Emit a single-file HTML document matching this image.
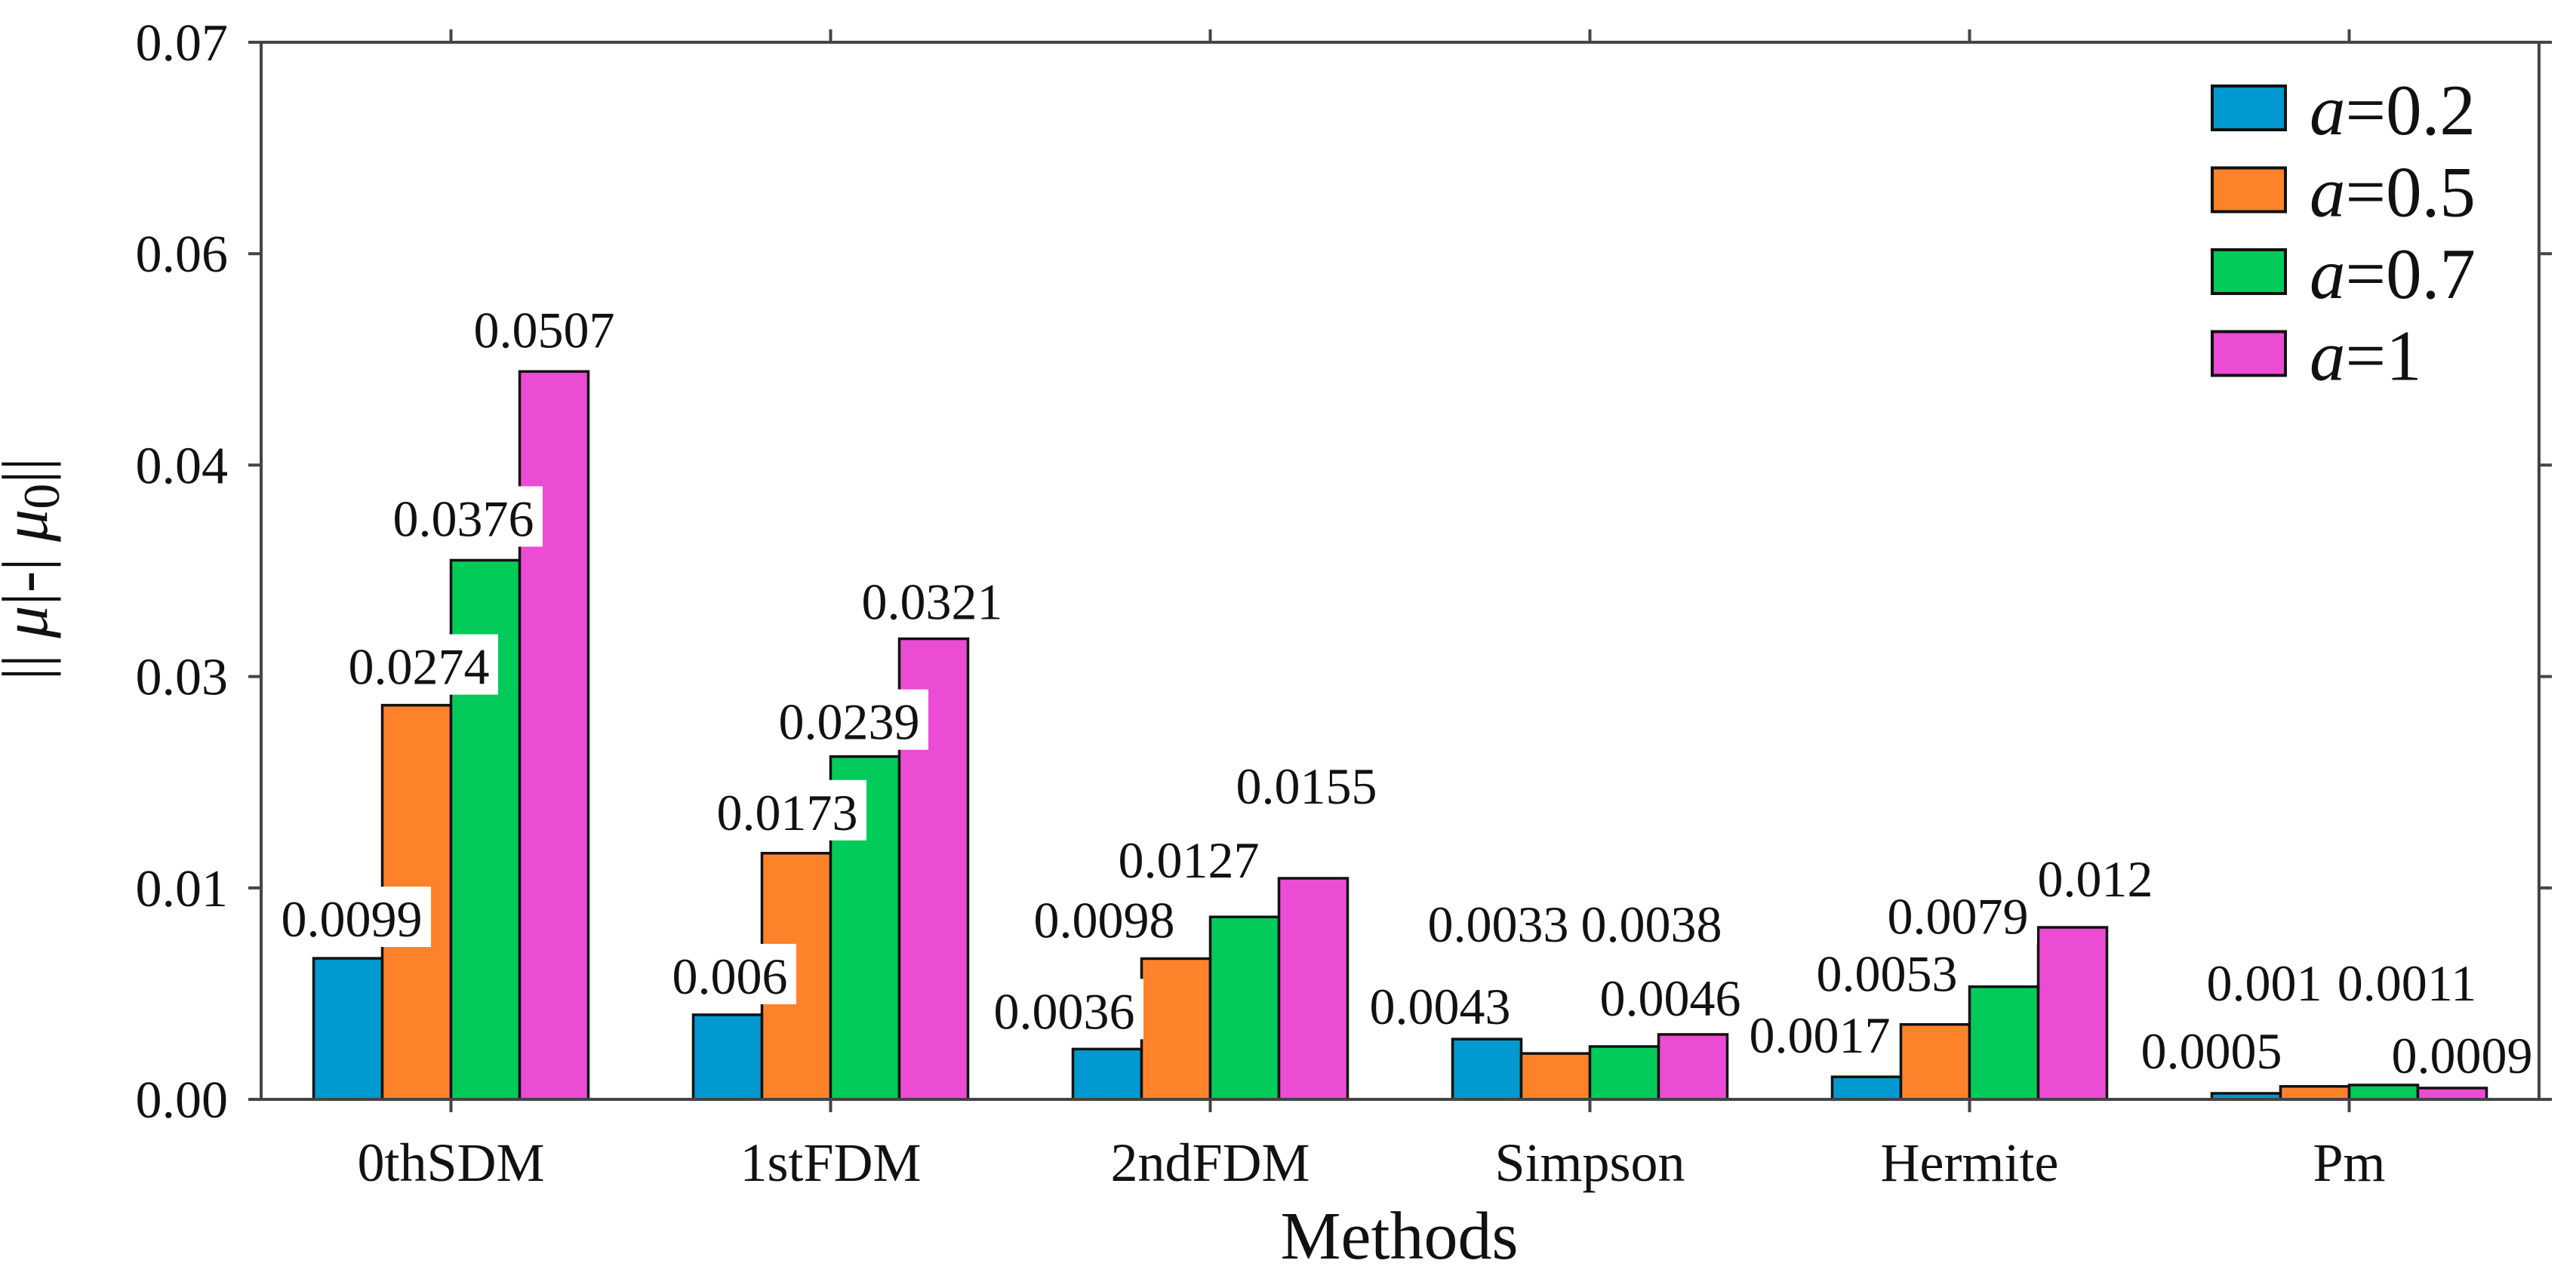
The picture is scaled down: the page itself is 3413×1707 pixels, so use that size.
<!DOCTYPE html>
<html><head><meta charset="utf-8"><style>
html,body{margin:0;padding:0;background:#fff;}
svg{display:block;font-family:"Liberation Serif","DejaVu Serif",serif;}
</style></head><body>
<svg id="chart" width="3413" height="1707" viewBox="0 0 3413 1707" xmlns="http://www.w3.org/2000/svg">
<rect width="3413" height="1707" fill="#fff"/>
<g id="bars"></g>
<g id="labels"></g>
<g id="axes"></g>
<text x="1854" y="1668" font-size="90" text-anchor="middle" fill="#111">Methods</text>
<text transform="translate(62,754) rotate(-90)" font-size="86" text-anchor="middle" fill="#111" xml:space="preserve">|| <tspan font-style="italic">μ</tspan>|-| <tspan font-style="italic">μ</tspan><tspan font-size="68" dy="16">0</tspan><tspan dy="-16">||</tspan></text>
<g id="legend"></g>
</svg>
<script>
const categories = ["0thSDM","1stFDM","2ndFDM","Simpson","Hermite","Pm"];
const seriesNames = ["0.2","0.5","0.7","1"];
const seriesA02 = [0.00934,0.0056,0.00333,0.00399,0.00149,0.0004];
const seriesA05 = [0.0261,0.0163,0.00932,0.00304,0.00496,0.00086];
const seriesA07 = [0.0357,0.0227,0.01208,0.0035,0.00746,0.00095];
const seriesA1 = [0.0482,0.0305,0.01464,0.0043,0.01139,0.00075];
const labelsA02 = ["0.0099","0.006","0.0036","0.0043","0.0017","0.0005"];
const labelsA05 = ["0.0274","0.0173","0.0098","0.0033","0.0053","0.001"];
const labelsA07 = ["0.0376","0.0239","0.0127","0.0038","0.0079","0.0011"];
const labelsA1 = ["0.0507","0.0321","0.0155","0.0046","0.012","0.0009"];
const yTickLabels = ["0.00","0.01","0.03","0.04","0.06","0.07"];
const yMax = 0.07;

const NS="http://www.w3.org/2000/svg";
const colors=["#0199cf","#fd822a","#02cb5a","#eb4cd3"];
const series=[seriesA02,seriesA05,seriesA07,seriesA1];
const labels=[labelsA02,labelsA05,labelsA07,labelsA1];
// label offsets (layout only): dx from bar center, dy of baseline from bar top
const ldx=[[5,3,-57,-62,-62,-46],[3,-12,-95,-76,-64,-67],[-29,-21,-74,36,-61,31],[-13,-2,-9,-30,30,13]];
const ldy=[[-29,-28,-27,-20,-32,-33],[-28,-31,-28,-148,-44,-114],[-32,-23,-52,-139,-70,-112],[-32,-26,-99,-25,-41,-20]];
const L=346,R=3364,T=56,B=1457;
const groupW=(R-L)/categories.length, barW=91;
function xc(i){return L+groupW*(i+0.5);}
function yv(v){return B-(v/yMax)*(B-T);}
function mk(tag,attrs,parent){const e=document.createElementNS(NS,tag);for(const k in attrs)e.setAttribute(k,attrs[k]);parent.appendChild(e);return e;}
const gb=document.getElementById('bars'),gl=document.getElementById('labels'),ga=document.getElementById('axes'),glg=document.getElementById('legend');
for(let s=0;s<series.length;s++){
  for(let i=0;i<categories.length;i++){
    const cx=xc(i)+(s-1.5)*barW, y=yv(series[s][i]);
    const r=mk('rect',{x:cx-barW/2,y:y,width:barW,height:B-y,fill:colors[s],stroke:'#111','stroke-width':3.5},gb);
    
    
  }
}
for(let s=0;s<series.length;s++){
  for(let i=0;i<categories.length;i++){
    const cx=xc(i)+(s-1.5)*barW+ldx[s][i], by=yv(series[s][i])+ldy[s][i];
    const w=labels[s][i].length*34+6;
    const bg=mk('rect',{x:cx-w/2,y:by-66,width:w,height:80,fill:'#fff'},gl);
    
    
    const t=mk('text',{x:cx,y:by,'font-size':68,'text-anchor':'middle',fill:'#111'},gl);
    t.textContent=labels[s][i];
    
    
  }
}
const st={stroke:'#444','stroke-width':4,fill:'none'};
const box=mk('rect',Object.assign({x:L,y:T,width:R-L,height:B-T},st),ga);


for(let k=0;k<yTickLabels.length;k++){
  const y=B-(B-T)*k/(yTickLabels.length-1);
  mk('line',Object.assign({x1:L-17,x2:L,y1:y,y2:y},st),ga);
  mk('line',Object.assign({x1:R,x2:R+17,y1:y,y2:y},st),ga);
  const t=mk('text',{x:302,y:y+24,'font-size':70,'text-anchor':'end',fill:'#111'},ga);
  t.textContent=yTickLabels[k];
  
  
}
for(let i=0;i<categories.length;i++){
  const x=xc(i);
  mk('line',Object.assign({x1:x,x2:x,y1:B,y2:B+17},st),ga);
  mk('line',Object.assign({x1:x,x2:x,y1:T-17,y2:T},st),ga);
  const t=mk('text',{x:x,y:1565,'font-size':72,'text-anchor':'middle',fill:'#111'},ga);
  t.textContent=categories[i];
  
  
}
for(let s=0;s<seriesNames.length;s++){
  const y=114+s*108.5;
  const r=mk('rect',{x:2931,y:y,width:97,height:58,fill:colors[s],stroke:'#111','stroke-width':4},glg);
  
  
  const t=mk('text',{x:3060,y:y+64,'font-size':95,fill:'#111'},glg);
  
  
  const a=document.createElementNS(NS,'tspan');a.setAttribute('font-style','italic');a.textContent='a';t.appendChild(a);
  t.appendChild(document.createTextNode('='+seriesNames[s]));
}
</script>
</body></html>
